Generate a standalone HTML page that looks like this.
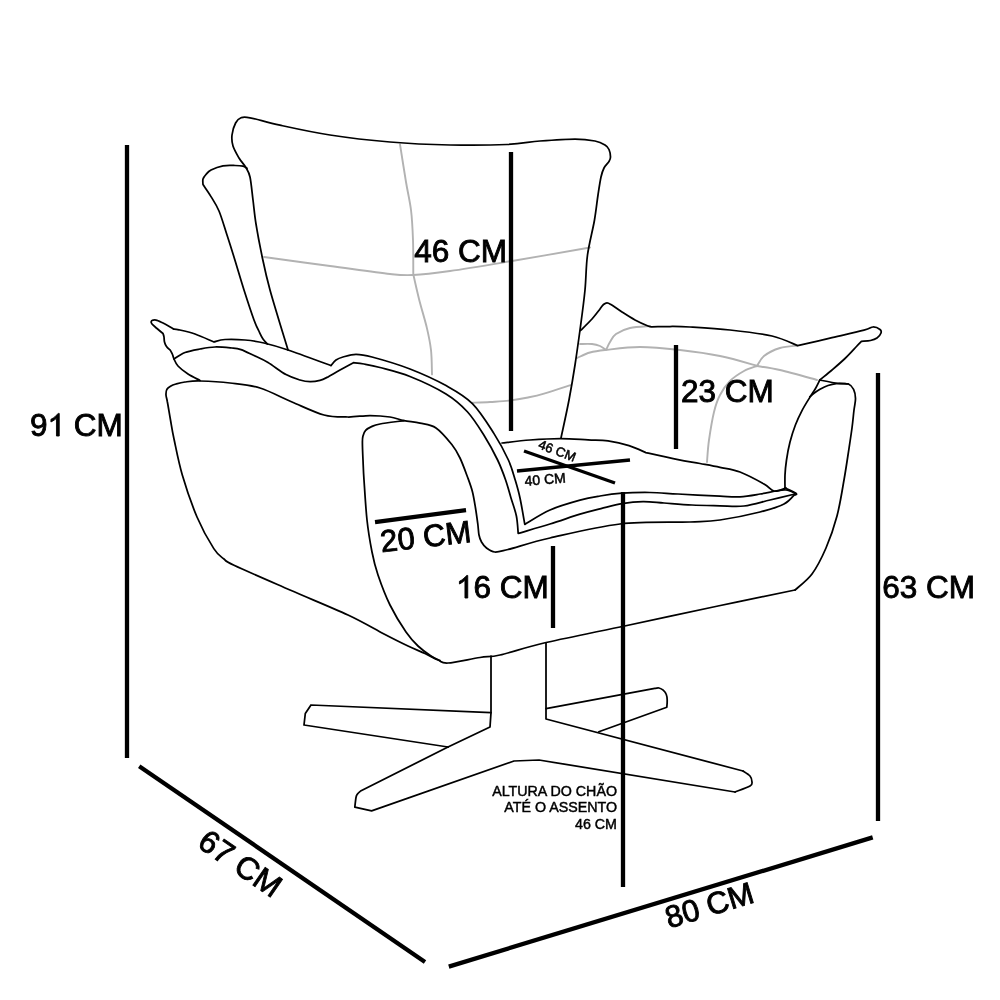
<!DOCTYPE html>
<html><head><meta charset="utf-8">
<style>
html,body{margin:0;padding:0;background:#fff;width:1000px;height:1000px;overflow:hidden}
svg{display:block;will-change:transform}
text{font-family:"Liberation Sans",sans-serif;fill:#000}
</style></head><body>
<svg width="1000" height="1000" viewBox="0 0 1000 1000">
<g fill="none" stroke="#b2b2b2" stroke-width="1.9" stroke-linecap="round" stroke-linejoin="round">
<path d="M472.6,402.7 C475.5,402.6 483.9,402.4 490.0,402.0 C496.1,401.6 502.7,401.4 509.0,400.6 C515.3,399.9 522.2,398.7 528.0,397.5 C533.8,396.3 536.9,395.7 544.0,393.6 C551.1,391.6 566.2,386.6 570.6,385.2"/>
<path d="M400.0,144.4 C401.0,150.7 404.2,171.1 406.0,182.0 C407.8,192.9 409.8,200.3 411.0,210.0 C412.2,219.7 412.6,229.3 413.0,240.0 C413.4,250.7 413.2,268.6 413.3,274.3 C414.2,278.4 416.8,290.1 419.0,299.0 C421.2,307.9 424.8,319.1 426.8,327.6 C428.8,336.1 430.1,342.2 431.0,350.0 C431.9,357.8 431.8,370.3 432.0,374.4"/>
<path d="M264.0,257.0 C275.0,258.5 309.0,263.2 330.0,266.0 C351.0,268.8 376.2,272.5 390.0,274.0 C403.8,275.5 403.0,275.5 413.0,275.0 C423.0,274.5 433.5,273.3 450.0,271.0 C466.5,268.7 488.7,264.9 512.0,261.0 C535.3,257.1 577.0,249.8 590.0,247.5"/>
<path d="M580.0,344.0 C582.0,344.0 588.7,343.7 592.0,344.0 C595.3,344.3 597.7,345.0 600.0,346.0 C602.3,347.0 605.0,349.3 606.0,350.0 C606.7,348.7 608.3,344.7 610.0,342.0 C611.7,339.3 612.7,336.3 616.0,334.0 C619.3,331.7 624.3,329.3 630.0,328.0 C635.7,326.7 646.7,326.3 650.0,326.0"/>
<path d="M577.0,358.0 C579.2,357.1 585.3,353.8 590.0,352.5 C594.7,351.2 596.7,350.9 605.0,350.0 C613.3,349.1 627.5,347.0 640.0,347.0 C652.5,347.0 666.7,348.5 680.0,350.0 C693.3,351.5 707.0,353.3 720.0,356.0 C733.0,358.7 751.7,364.3 758.0,366.0"/>
<path d="M797.6,345.6 C794.7,346.0 785.6,346.3 780.0,348.0 C774.4,349.7 767.8,353.0 764.0,356.0 C760.2,359.0 758.2,364.3 757.0,366.0"/>
<path d="M757.0,366.0 C760.8,366.7 770.0,367.7 780.0,370.0 C790.0,372.3 810.8,378.3 817.0,380.0"/>
<path d="M757.0,366.0 C754.8,366.8 748.5,368.5 744.0,371.0 C739.5,373.5 734.0,377.0 730.0,381.0 C726.0,385.0 722.7,389.8 720.0,395.0 C717.3,400.2 715.8,404.5 714.0,412.0 C712.2,419.5 710.2,431.7 709.0,440.0 C707.8,448.3 707.3,458.3 707.0,462.0"/>
</g>
<g fill="none" stroke="#000" stroke-width="1.75" stroke-linecap="round" stroke-linejoin="round">
<path d="M288.0,350.0 C285.0,340.0 274.3,305.7 270.0,290.0 C265.7,274.3 264.3,267.0 262.0,256.0 C259.7,245.0 257.5,233.3 256.0,224.0 C254.5,214.7 254.0,207.8 253.0,200.0 C252.0,192.2 251.2,182.4 250.0,177.0 C248.8,171.6 247.6,170.6 245.8,167.4 C244.0,164.2 241.1,161.6 239.0,158.0 C236.9,154.4 234.2,149.8 233.0,146.0 C231.8,142.2 231.6,138.8 232.0,135.0 C232.4,131.2 234.1,125.9 235.6,123.0 C237.1,120.1 238.6,118.7 241.0,117.8 C243.4,116.9 243.5,116.6 250.0,117.8 C256.5,119.0 266.7,122.3 280.0,125.2 C293.3,128.1 311.7,132.2 330.0,135.0 C348.3,137.8 370.0,140.3 390.0,142.0 C410.0,143.7 430.5,144.6 450.0,145.0 C469.5,145.4 492.0,145.2 507.0,144.5 C522.0,143.8 528.7,141.9 540.0,141.0 C551.3,140.1 565.8,139.0 575.0,139.0 C584.2,139.0 590.0,140.0 595.0,141.0 C600.0,142.0 602.7,143.6 605.0,145.0 C607.3,146.4 608.1,147.5 609.0,149.5 C609.9,151.5 610.5,155.0 610.5,157.0 C610.5,159.0 610.1,159.7 609.0,161.5 C607.9,163.3 605.3,165.4 604.0,168.0 C602.7,170.6 602.0,172.5 601.0,177.0 C600.0,181.5 599.1,187.8 598.0,195.0 C596.9,202.2 596.2,210.0 594.5,220.0 C592.8,230.0 589.1,243.3 587.5,255.0 C585.9,266.7 586.2,277.5 585.0,290.0 C583.8,302.5 581.7,317.5 580.0,330.0 C578.3,342.5 576.8,353.3 575.0,365.0 C573.2,376.7 571.3,387.8 569.0,400.0 C566.7,412.2 562.3,431.7 561.0,438.0"/>
<path d="M267.3,344.0 C266.6,343.2 264.3,340.9 263.0,339.0 C261.7,337.1 261.1,335.8 259.6,332.6 C258.1,329.4 256.6,327.1 254.0,320.0 C251.4,312.9 247.1,299.7 244.0,290.0 C240.9,280.3 238.3,271.2 235.5,262.0 C232.7,252.8 229.8,243.5 227.0,235.0 C224.2,226.5 221.7,217.4 219.0,211.0 C216.3,204.6 213.7,201.0 211.0,196.6 C208.3,192.2 204.3,186.6 203.0,184.6 C203.0,183.7 202.5,180.7 203.0,179.0 C203.5,177.3 204.7,176.0 206.0,174.5 C207.3,173.0 208.2,171.4 211.0,170.0 C213.8,168.6 219.0,166.6 223.0,165.8 C227.0,165.1 231.7,165.4 235.0,165.5 C238.3,165.6 241.0,165.8 243.0,166.2 C245.0,166.6 246.3,167.9 247.0,168.2"/>
<path d="M173.5,329.0 C174.4,329.1 175.4,329.0 179.0,329.8 C182.6,330.6 189.2,332.0 195.0,334.0 C200.8,336.0 210.8,340.7 214.0,342.0 C215.8,341.6 219.8,339.8 225.0,339.5 C230.2,339.2 238.5,339.4 245.0,340.0 C251.5,340.6 256.8,341.3 264.0,343.0 C271.2,344.7 276.8,346.2 288.0,350.0 C299.2,353.8 323.8,363.0 331.0,365.6 C331.8,364.7 334.0,361.4 336.0,360.0 C338.0,358.6 339.7,357.9 343.0,357.0 C346.3,356.1 351.2,354.4 356.0,354.4 C360.8,354.4 363.0,354.6 372.0,357.0 C381.0,359.4 397.7,364.2 410.0,369.0 C422.3,373.8 435.6,379.8 446.0,385.6 C456.4,391.4 464.4,395.6 472.4,403.6 C480.4,411.6 488.0,424.2 494.0,433.6 C500.0,443.0 504.9,452.3 508.4,460.0 C511.9,467.7 513.3,473.7 515.2,480.0 C517.1,486.3 518.4,490.6 520.0,498.0 C521.6,505.4 524.0,520.0 524.8,524.4 C529.0,522.0 540.8,514.0 550.0,510.0 C559.2,506.0 571.7,502.5 580.0,500.2 C588.3,497.9 593.0,497.2 600.0,496.0 C607.0,494.8 613.7,493.8 622.0,493.2 C630.3,492.6 640.7,492.4 650.0,492.5 C659.3,492.6 666.3,493.4 678.0,494.0 C689.7,494.6 709.7,495.7 720.0,496.2 C730.3,496.7 733.3,497.2 740.0,496.8 C746.7,496.4 754.0,495.0 760.0,494.0 C766.0,493.0 771.7,491.7 776.0,491.0 C780.3,490.3 782.7,489.6 786.0,490.0 C789.3,490.4 794.3,492.9 796.0,493.5"/>
<path d="M173.5,329.0 C172.1,328.2 167.8,325.4 165.0,324.0 C162.2,322.6 159.0,320.9 157.0,320.3 C155.0,319.7 154.0,320.0 153.0,320.2 C152.0,320.4 151.4,320.9 151.2,321.5 C151.0,322.1 151.0,322.8 152.0,324.0 C153.0,325.2 155.2,326.9 157.0,328.5 C158.8,330.1 162.0,332.7 163.0,333.5 C163.2,334.1 163.8,335.6 164.0,337.0 C164.2,338.4 164.1,340.4 164.5,342.0 C164.9,343.6 165.5,345.1 166.5,346.5 C167.5,347.9 169.8,349.8 170.5,350.5 C170.8,351.2 171.9,353.1 172.5,354.5 C173.1,355.9 173.1,357.1 174.0,359.0 C174.9,360.9 175.7,363.5 178.0,366.0 C180.3,368.5 184.3,371.6 188.0,374.0 C191.7,376.4 198.0,379.4 200.0,380.5"/>
<path d="M174.0,359.0 C175.8,357.9 180.7,354.2 185.0,352.5 C189.3,350.8 195.0,349.9 200.0,349.0 C205.0,348.1 209.7,347.2 215.0,347.0 C220.3,346.8 227.7,347.6 232.0,348.0 C236.3,348.4 237.3,348.4 241.0,349.6 C244.7,350.9 249.5,353.4 254.0,355.5 C258.5,357.6 262.7,359.3 268.0,362.5 C273.3,365.7 280.7,371.7 286.0,374.6 C291.3,377.5 296.0,378.8 300.0,380.0 C304.0,381.2 306.7,381.6 310.0,381.6 C313.3,381.7 317.2,381.0 320.0,380.3 C322.8,379.6 323.7,379.1 327.0,377.4 C330.3,375.7 335.6,372.4 340.0,370.0 C344.4,367.6 351.2,363.9 353.4,362.7 C355.2,362.9 359.6,363.2 364.0,364.0 C368.4,364.8 372.3,365.4 380.0,367.5 C387.7,369.6 399.0,372.1 410.0,376.5 C421.0,380.9 436.4,388.1 446.0,394.0 C455.6,399.9 461.2,405.0 467.6,412.0 C474.0,419.0 479.4,428.0 484.4,436.0 C489.4,444.0 494.1,452.7 497.6,460.0 C501.1,467.3 503.4,473.7 505.6,480.0 C507.8,486.3 509.2,492.0 511.0,498.0 C512.8,504.0 515.2,510.1 516.4,516.0 C517.6,521.9 517.9,530.5 518.2,533.4 C523.5,531.8 539.7,527.2 550.0,524.0 C560.3,520.8 571.5,516.8 580.0,514.2 C588.5,511.6 594.0,510.4 601.0,508.6 C608.0,506.9 615.0,504.9 622.0,503.7 C629.0,502.5 636.0,501.7 643.0,501.6 C650.0,501.5 655.8,502.4 664.0,503.0 C672.2,503.6 682.7,504.5 692.0,505.0 C701.3,505.5 711.3,505.6 720.0,505.8 C728.7,506.0 735.7,507.0 744.0,506.0 C752.3,505.0 761.5,502.0 770.0,500.0 C778.5,498.0 790.8,495.0 795.0,494.0"/>
<path d="M795.0,590.0 C782.2,592.7 747.2,599.8 718.0,606.0 C688.8,612.2 649.0,620.8 620.0,627.0 C591.0,633.2 564.0,638.3 544.0,643.0 C524.0,647.7 510.7,652.6 500.0,655.0 C489.3,657.4 488.7,656.2 480.0,657.5 C471.3,658.8 455.0,662.6 448.0,663.0 C441.0,663.4 441.8,661.6 438.0,660.0 C434.2,658.4 430.0,655.8 425.0,653.5 C420.0,651.2 414.8,649.2 408.0,646.0 C401.2,642.8 394.0,639.2 384.0,634.0 C374.0,628.8 363.7,622.3 348.0,615.0 C332.3,607.7 309.0,598.3 290.0,590.0 C271.0,581.7 245.0,570.5 234.0,565.3 C223.0,560.1 227.4,561.8 224.0,559.0 C220.6,556.2 218.3,555.6 213.8,548.6 C209.3,541.6 202.2,529.3 197.0,517.0 C191.8,504.7 186.1,488.0 182.3,475.0 C178.5,462.0 176.0,448.2 174.0,439.0 C172.0,429.8 171.6,426.2 170.5,420.0 C169.4,413.8 168.2,406.2 167.4,402.0 C166.7,397.8 166.1,397.1 166.0,395.0 C165.9,392.9 166.1,391.0 166.8,389.5 C167.6,388.0 169.0,387.1 170.5,386.2 C172.0,385.3 173.6,384.7 176.0,384.0 C178.4,383.3 181.0,382.5 185.0,382.0 C189.0,381.5 192.5,380.8 200.0,381.0 C207.5,381.2 220.0,381.8 230.0,383.0 C240.0,384.2 249.7,384.8 260.0,388.0 C270.3,391.2 281.3,397.5 292.0,402.0 C302.7,406.5 314.7,412.5 324.0,415.0 C333.3,417.5 340.3,416.9 348.0,417.0 C355.7,417.1 363.0,415.5 370.0,415.5 C377.0,415.5 384.3,416.1 390.0,417.0 C395.7,417.9 399.0,419.6 404.0,420.6 C409.0,421.6 414.7,422.0 420.0,423.2 C425.3,424.4 430.7,424.4 436.0,428.0 C441.3,431.6 448.0,439.8 452.0,444.8 C456.0,449.8 457.4,452.6 460.0,458.0 C462.6,463.4 465.4,471.3 467.5,477.0 C469.6,482.7 471.2,486.8 472.5,492.0 C473.8,497.2 474.6,502.7 475.5,508.0 C476.4,513.3 477.2,519.5 477.8,524.0 C478.4,528.5 478.4,532.0 479.0,535.0 C479.6,538.0 480.2,539.8 481.5,542.0 C482.8,544.2 484.3,546.3 486.5,548.0 C488.7,549.7 491.2,551.8 494.8,552.0 C498.4,552.2 498.8,551.8 508.0,549.5 C517.2,547.2 531.3,542.2 550.0,538.0 C568.7,533.8 596.7,526.7 620.0,524.0 C643.3,521.3 673.3,522.7 690.0,522.0 C706.7,521.3 708.3,521.7 720.0,520.0 C731.7,518.3 749.3,514.7 760.0,512.0 C770.7,509.3 778.2,507.0 784.0,504.0 C789.8,501.0 793.2,495.7 795.0,494.0"/>
<path d="M404.0,420.6 C400.0,421.2 385.3,423.0 380.0,424.0 C374.7,425.0 374.4,425.3 372.0,426.4 C369.6,427.5 367.1,428.8 365.6,430.4 C364.1,432.0 363.5,434.1 363.0,436.0 C362.5,437.9 362.4,438.0 362.4,442.0 C362.4,446.0 362.7,453.7 363.0,460.0 C363.3,466.3 363.3,470.0 364.0,480.0 C364.7,490.0 365.7,508.0 367.0,520.0 C368.3,532.0 370.2,542.8 372.0,552.0 C373.8,561.2 375.0,566.2 378.0,575.0 C381.0,583.8 385.3,595.5 390.0,605.0 C394.7,614.5 401.3,625.2 406.0,632.0 C410.7,638.8 413.8,642.0 418.0,646.0 C422.2,650.0 427.3,653.6 431.0,656.0 C434.7,658.4 438.5,659.8 440.0,660.5"/>
<path d="M795.0,590.0 C797.8,587.3 806.8,581.0 812.0,574.0 C817.2,567.0 821.8,557.7 826.0,548.0 C830.2,538.3 834.0,527.3 837.0,516.0 C840.0,504.7 842.2,490.2 844.0,480.0 C845.8,469.8 846.7,463.7 848.0,455.0 C849.3,446.3 851.0,435.5 852.0,428.0 C853.0,420.5 853.4,414.9 854.0,410.0 C854.6,405.1 855.6,401.8 855.5,398.4 C855.4,394.9 854.8,391.7 853.6,389.3 C852.4,386.9 851.0,385.0 848.4,384.0 C845.8,383.0 842.8,384.2 838.0,383.5 C833.2,382.8 822.8,380.6 819.8,380.0"/>
<path d="M809.8,396.8 C810.7,396.1 813.3,393.8 815.0,392.5 C816.7,391.2 817.8,390.4 820.0,389.2 C822.2,388.0 825.3,386.4 828.0,385.5 C830.7,384.6 833.5,383.9 836.2,383.6 C838.9,383.3 842.0,383.5 844.0,383.6 C846.0,383.7 847.7,383.9 848.4,384.0"/>
<path d="M580.5,330.5 C582.4,328.6 588.8,322.6 592.0,319.0 C595.2,315.4 598.1,311.4 600.0,309.0 C601.9,306.6 602.3,305.5 603.5,304.5 C604.7,303.5 605.8,302.8 607.0,302.8 C608.2,302.8 608.5,303.0 611.0,304.5 C613.5,306.0 618.0,309.4 622.0,312.0 C626.0,314.6 630.7,317.7 635.0,320.0 C639.3,322.3 645.2,324.9 648.0,326.0 C650.8,327.1 651.3,326.7 652.0,326.8 C655.0,326.8 663.7,326.5 670.0,326.5 C676.3,326.5 680.0,326.4 690.0,327.0 C700.0,327.6 716.3,328.5 730.0,330.0 C743.7,331.5 760.7,333.4 772.0,336.0 C783.3,338.6 793.3,344.0 797.6,345.6 C803.0,344.4 818.9,340.8 830.0,338.2 C841.1,335.6 856.8,332.1 864.0,330.2 C871.2,328.3 870.3,327.1 873.0,327.0 C875.7,326.9 878.7,328.5 880.0,329.5 C881.3,330.5 881.5,331.6 881.0,333.0 C880.5,334.4 878.8,336.8 877.0,338.0 C875.2,339.2 873.1,339.9 870.5,340.5 C867.9,341.1 862.9,341.2 861.4,341.4 C860.5,342.3 858.7,344.1 856.0,347.0 C853.3,349.9 849.0,354.7 845.0,358.5 C841.0,362.3 836.2,366.4 832.0,370.0 C827.8,373.6 821.8,378.3 819.8,380.0 C819.0,381.5 816.9,386.1 815.2,389.0 C813.5,391.9 812.0,393.8 809.8,397.4 C807.6,401.0 804.4,406.0 802.0,410.6 C799.6,415.2 797.4,419.8 795.4,425.0 C793.4,430.2 791.5,436.2 790.0,442.0 C788.5,447.8 787.3,454.5 786.5,460.0 C785.7,465.5 785.2,470.3 785.0,475.0 C784.8,479.7 785.0,485.8 785.0,488.0"/>
<path d="M502.0,443.0 C506.7,442.5 520.2,440.8 530.0,440.0 C539.8,439.2 551.0,438.5 560.7,438.5 C570.4,438.5 580.1,439.4 588.0,439.8 C595.9,440.2 601.2,439.8 608.0,440.8 C614.8,441.8 622.7,443.6 629.0,445.6 C635.3,447.6 643.0,451.4 645.8,452.6 C651.2,453.8 669.0,457.8 678.0,459.6 C687.0,461.4 693.0,462.2 700.0,463.5 C707.0,464.8 713.3,465.9 720.0,467.3 C726.7,468.7 732.7,469.2 740.0,472.0 C747.3,474.8 758.3,480.8 764.0,484.0 C769.7,487.2 770.3,490.3 774.0,491.0 C777.7,491.7 784.0,488.5 786.0,488.0"/>
<path d="M785.0,488.0 C786.8,488.9 794.3,492.3 796.0,493.5 C797.7,494.7 795.2,494.8 795.0,495.0"/>
<path d="M491.0,656.0 L491.0,712.6 L490.0,727.0 L448.0,747.0"/>
<path d="M546.0,643.0 L546.0,719.0 L743.0,771.0"/>
<path d="M491.0,712.6 L311.0,705.0 L305.3,713.5 L304.0,725.0 L448.0,747.0"/>
<path d="M448.0,747.0 L360.6,791.0 C360.1,791.5 358.3,792.9 357.5,794.0 C356.7,795.1 356.4,795.3 356.0,797.5 C355.6,799.7 355.0,805.6 354.8,807.2 L371.6,810.8 L514.0,761.0 L539.0,760.0 L735.0,792.0"/>
<path d="M743.0,771.0 C744.2,771.8 748.5,774.2 750.0,776.0 C751.5,777.8 752.0,780.3 752.0,782.0 C752.0,783.7 752.8,784.3 750.0,786.0 C747.2,787.7 737.5,791.0 735.0,792.0"/>
<path d="M546.0,708.6 L654.8,688.4 C655.5,688.3 657.6,687.7 659.0,688.0 C660.4,688.3 662.0,689.1 663.2,690.2 C664.4,691.3 665.6,692.9 666.3,694.5 C667.0,696.1 667.1,697.9 667.2,700.0 C667.3,702.1 666.9,706.1 666.8,707.3 L598.8,731.8"/>
</g>
<g stroke="#000" stroke-width="4.3">
<line x1="127" y1="145" x2="127" y2="758"/>
<line x1="511" y1="152" x2="511" y2="431"/>
<line x1="676" y1="345" x2="676" y2="449"/>
<line x1="878" y1="373" x2="878" y2="821"/>
<line x1="553" y1="546" x2="553" y2="628"/>
<line x1="623" y1="492" x2="623" y2="887"/>
<line x1="375" y1="522.2" x2="466" y2="510.2"/>
<line x1="139.2" y1="766.2" x2="425" y2="962"/>
<line x1="448.8" y1="966.6" x2="872.7" y2="837.4"/>
</g>
<g stroke="#000" stroke-width="3.4">
<line x1="524" y1="451" x2="615" y2="483"/>
<line x1="517" y1="471" x2="630" y2="460"/>
</g>
<g font-size="31.5" stroke="#000" stroke-width="0.9">
<text x="414.3" y="262">46 CM</text>
<text x="680.9" y="402">23 CM</text>
<text x="30" y="436">9</text><text x="73.75" y="436">CM</text>
<path transform="translate(47.5,436) scale(0.01538,-0.01538)" stroke-width="58" d="M763,0 L583,0 L583,1147 C520,1090 440,1030 350,980 C300,950 260,928 223,910 L223,1084 C330,1135 440,1210 520,1290 C600,1370 660,1430 700,1466 L763,1466 Z"/>
<text x="882.2" y="597.5">63 CM</text>
<text x="473.6" y="598">6 CM</text>
<path transform="translate(456,598) scale(0.01538,-0.01538)" stroke-width="58" d="M763,0 L583,0 L583,1147 C520,1090 440,1030 350,980 C300,950 260,928 223,910 L223,1084 C330,1135 440,1210 520,1290 C600,1370 660,1430 700,1466 L763,1466 Z"/>
<text transform="translate(381.5,552.2) rotate(-6.5)" font-size="31">20 CM</text>
<text transform="translate(196,846) rotate(34.5)">67 CM</text>
<text transform="translate(669,928.5) rotate(-17)" font-size="30.8">80 CM</text>
</g>
<g font-size="14" stroke="#000" stroke-width="0.5">
<text transform="translate(537.5,448) rotate(21)" font-size="13.2">46 CM</text>
<text transform="translate(525,486) rotate(-5)">40 CM</text>
</g>
<g font-size="14.25" text-anchor="end" stroke="#000" stroke-width="0.45">
<text x="617" y="796">ALTURA DO CHÃO</text>
<text x="617" y="812">ATÉ O ASSENTO</text>
<text x="617" y="829">46 CM</text>
</g>
</svg>
</body></html>
